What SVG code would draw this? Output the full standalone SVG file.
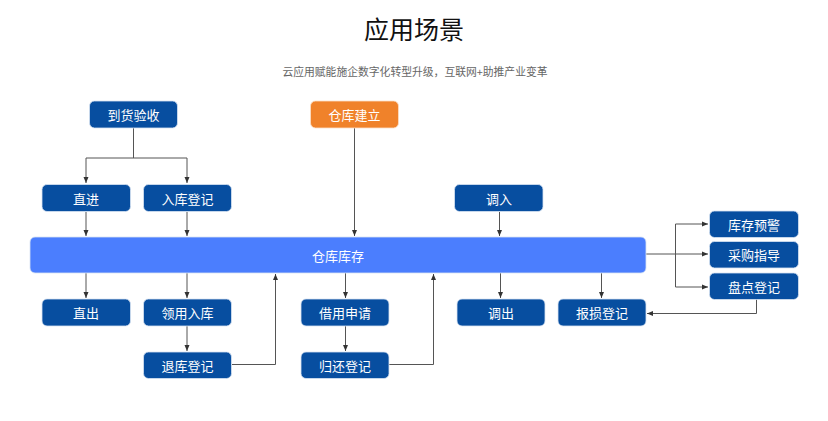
<svg xmlns="http://www.w3.org/2000/svg" width="828" height="421" viewBox="0 0 828 421">
<defs>
<marker id="ah" viewBox="0 0 6 6" refX="6" refY="3" markerWidth="6" markerHeight="6" orient="auto" markerUnits="userSpaceOnUse">
<path d="M0,0.5 L6,3 L0,5.5 Z" fill="#333"/>
</marker>
<style>
text{font-family:"Noto Sans CJK SC","Noto Sans",sans-serif;}
.box{fill:#074EA0;stroke:#d8e3f3;stroke-width:0.8;}
.bt{fill:#fff;font-size:13px;text-anchor:middle;dominant-baseline:central;}
.ln{fill:none;stroke:#555;stroke-width:1;}
.arr{marker-end:url(#ah);}
</style>
</defs>
<rect width="828" height="421" fill="#fff"/>
<text x="414" y="28" font-size="25" text-anchor="middle" dominant-baseline="central" fill="#111">应用场景</text>
<text x="415" y="71" font-size="10.8" text-anchor="middle" dominant-baseline="central" fill="#666">云应用赋能施企数字化转型升级，互联网+助推产业变革</text>

<g id="connectors">
<path class="ln" d="M133.5,128 V158 M86,158 H187"/>
<path class="ln arr" d="M86,158 V183"/>
<path class="ln arr" d="M187,158 V183"/>
<path class="ln arr" d="M354.5,128 V236"/>
<path class="ln arr" d="M86,212 V236"/>
<path class="ln arr" d="M187,212 V236"/>
<path class="ln arr" d="M499.5,212 V236"/>
<path class="ln arr" d="M86,273 V298"/>
<path class="ln arr" d="M187,273 V298"/>
<path class="ln arr" d="M345.5,273 V298"/>
<path class="ln arr" d="M500.5,273 V298"/>
<path class="ln arr" d="M601.5,273 V298"/>
<path class="ln arr" d="M187,326 V351"/>
<path class="ln arr" d="M345.5,326 V351"/>
<path class="ln arr" d="M232,364.5 H275.5 V274"/>
<path class="ln arr" d="M389,364.5 H433.5 V274"/>
<path class="ln" d="M646,254 H675.5 M675.5,224 V287"/>
<path class="ln arr" d="M675.5,224 H708"/>
<path class="ln arr" d="M675.5,254 H708"/>
<path class="ln arr" d="M675.5,287 H708"/>
<path class="ln arr" d="M756.5,299 V313.5 H647"/>
</g>

<g id="bar">
<rect x="30" y="237" width="616" height="36" rx="5" fill="#4B7EFE" stroke="#d8e3f3" stroke-width="0.8"/>
<text class="bt" x="338" y="255" font-size="12">仓库库存</text>
</g>
<g id="n-daohuo"><rect class="box" x="89.5" y="101" width="88" height="27" rx="5"/><text class="bt" x="133.5" y="114.5">到货验收</text></g>
<g id="n-jianli"><rect x="310.5" y="101" width="88" height="27" rx="5" fill="#F0822A" stroke="#fbe0c8" stroke-width="0.8"/><text class="bt" x="354.5" y="114.5">仓库建立</text></g>
<g id="n-zhijin"><rect class="box" x="42" y="184.5" width="88.5" height="27" rx="5"/><text class="bt" x="86" y="198">直进</text></g>
<g id="n-ruku"><rect class="box" x="143.5" y="184.5" width="88" height="27" rx="5"/><text class="bt" x="187.5" y="198">入库登记</text></g>
<g id="n-diaoru"><rect class="box" x="454.5" y="184.5" width="88.5" height="27" rx="5"/><text class="bt" x="499" y="198">调入</text></g>
<g id="n-zhichu"><rect class="box" x="42" y="299" width="88.5" height="27" rx="5"/><text class="bt" x="86" y="312.5">直出</text></g>
<g id="n-lingyong"><rect class="box" x="143.5" y="299" width="88" height="27" rx="5"/><text class="bt" x="187.5" y="312.5">领用入库</text></g>
<g id="n-tuiku"><rect class="box" x="143.5" y="352" width="88" height="26.5" rx="5"/><text class="bt" x="187.5" y="365">退库登记</text></g>
<g id="n-jieyong"><rect class="box" x="301" y="299" width="88" height="27" rx="5"/><text class="bt" x="345" y="312.5">借用申请</text></g>
<g id="n-guihuan"><rect class="box" x="301" y="352" width="88" height="26.5" rx="5"/><text class="bt" x="345" y="365">归还登记</text></g>
<g id="n-diaochu"><rect class="box" x="457" y="299" width="88" height="27" rx="5"/><text class="bt" x="501" y="312.5">调出</text></g>
<g id="n-baosun"><rect class="box" x="558" y="299" width="88" height="27" rx="5"/><text class="bt" x="602" y="312.5">报损登记</text></g>
<g id="n-yujing"><rect class="box" x="709.5" y="211" width="89" height="26.5" rx="5"/><text class="bt" x="754" y="224">库存预警</text></g>
<g id="n-caigou"><rect class="box" x="709.5" y="241.5" width="89" height="26.5" rx="5"/><text class="bt" x="754" y="254.5">采购指导</text></g>
<g id="n-pandian"><rect class="box" x="709.5" y="273" width="89" height="26.5" rx="5"/><text class="bt" x="754" y="286">盘点登记</text></g>
</svg>
